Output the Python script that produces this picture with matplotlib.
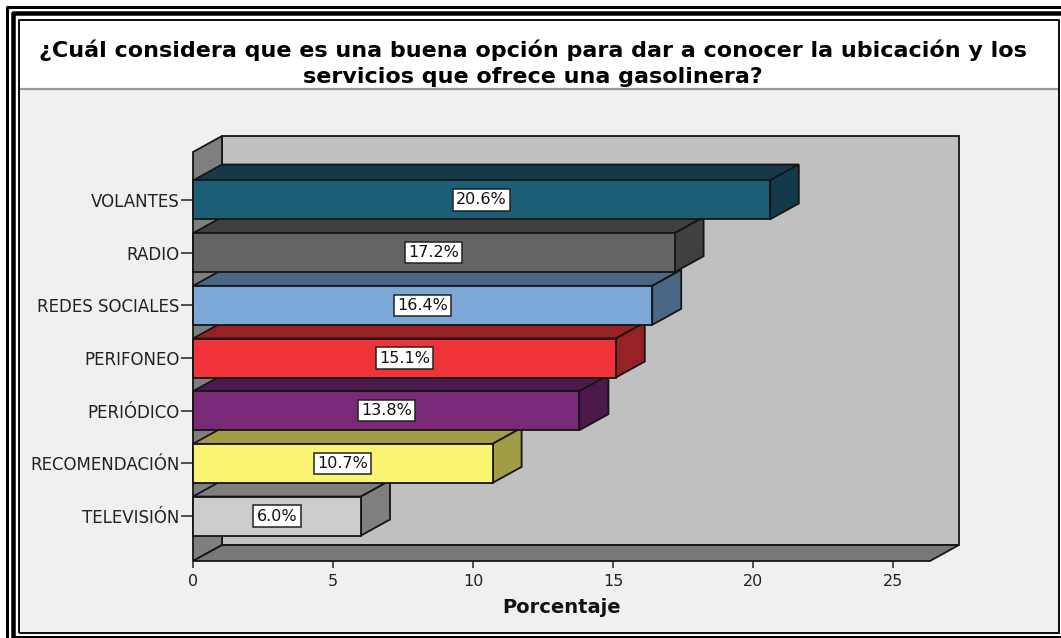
import numpy as np
import matplotlib
matplotlib.use('Agg')
import matplotlib.pyplot as plt
from matplotlib.patches import Polygon
from matplotlib.lines import Line2D

# Datos de la pregunta
titulo_1 = '¿Cuál considera que es una buena opción para dar a conocer la ubicación y los'
titulo_2 = 'servicios que ofrece una gasolinera?'
categorias = ['VOLANTES', 'RADIO', 'REDES SOCIALES', 'PERIFONEO',
              'PERIÓDICO', 'RECOMENDACIÓN', 'TELEVISIÓN']
porcentajes = [20.6, 17.2, 16.4, 15.1, 13.8, 10.7, 6.0]
ticks_x = [0, 5, 10, 15, 20, 25]

# colores cara frontal / caras laterales
color_frente = ['#1D5E77', '#646464', '#7BA8D6', '#F03339', '#7A2878', '#FAF571', '#CCCCCC']
color_lado = ['#13394A', '#404040', '#4A6785', '#962023', '#4B1A4A', '#A09D46', '#7F7F7F']

W, H = 1061, 638
fig = plt.figure(figsize=(W / 100, H / 100), dpi=100)
fig.patch.set_facecolor('white')

# ---- marco y fondo (coordenadas en pixeles) ----
fondo = fig.add_axes([0, 0, 1, 1])
fondo.set_xlim(0, W)
fondo.set_ylim(H, 0)
fondo.axis('off')
fondo.add_patch(plt.Rectangle((19, 89), 1040, 544, fc='#F0F0F0', ec='none'))
fondo.add_line(Line2D([19, 1059], [88.5, 88.5], color='#9A9A9A', lw=1.6))
px = 0.72  # puntos por pixel
marco = [
    ([7, 7, W], [H, 7, 7], 3.0, 'black'),
    ([13, 13, W], [H, 13, 13], 4.5, 'black'),
    ([18.5, 18.5, 1059, 1059, 18.5], [633, 19.5, 19.5, 633, 633], 2.0, '#111111'),
    ([13, W], [636.5, 636.5], 2.0, 'black'),
]
for xs, ys, ancho, c in marco:
    fondo.add_line(Line2D(xs, ys, color=c, lw=ancho * px, solid_capstyle='butt'))
fondo.text(533, 50.5, titulo_1, ha='center', va='center', fontsize=16,
           fontweight='bold', color='black')
fondo.text(533, 77, titulo_2, ha='center', va='center', fontsize=16,
           fontweight='bold', color='black')

# ---- grafico de barras 3D ----
x0, x1, y_arr, y_ab = 193, 930, 152, 561       # caja frontal en pixeles
px_unidad = 28.0
paso = 52.67
centro0 = 200
ax = fig.add_axes([x0 / W, (H - y_ab) / H, (x1 - x0) / W, (y_ab - y_arr) / H])
xmax = (x1 - x0) / px_unidad
y_top = (y_arr - centro0) / paso
y_bot = (y_ab - centro0) / paso
ax.set_xlim(0, xmax)
ax.set_ylim(y_bot, y_top)
ax.patch.set_visible(False)
for s in ax.spines.values():
    s.set_visible(False)

dx = 29 / px_unidad
dy = -16 / paso
h = 39 / paso
borde = '#151515'

def cara(pts, fc, z):
    ax.add_patch(Polygon(pts, closed=True, fc=fc, ec=borde, lw=1.3,
                         zorder=z, clip_on=False, joinstyle='miter'))

# pared del fondo, pared izquierda y piso
cara([(dx, y_top + dy), (xmax + dx, y_top + dy), (xmax + dx, y_bot + dy), (dx, y_bot + dy)], '#C0C0C0', 1)
cara([(0, y_top), (dx, y_top + dy), (dx, y_bot + dy), (0, y_bot)], '#7F7F7F', 2)
cara([(0, y_bot), (xmax, y_bot), (xmax + dx, y_bot + dy), (dx, y_bot + dy)], '#777777', 2)

n = len(categorias)
for i in reversed(range(n)):
    v = porcentajes[i]
    a, b = i - h / 2, i + h / 2
    z = 10 + 3 * (n - i)
    cara([(0, a), (v, a), (v + dx, a + dy), (dx, a + dy)], color_lado[i], z)
    cara([(v, a), (v + dx, a + dy), (v + dx, b + dy), (v, b)], color_lado[i], z)
    cara([(0, a), (v, a), (v, b), (0, b)], color_frente[i], z + 1)
    ax.text(v / 2, i, f'{v:.1f}%', ha='center', va='center', fontsize=11.5,
            color='#111111', zorder=z + 2,
            bbox=dict(boxstyle='square,pad=0.2', fc='white', ec='#222222', lw=1.1))

ax.set_yticks(range(n))
ax.set_yticklabels(categorias)
ax.set_xticks(ticks_x)
ax.tick_params(axis='y', length=8.6, width=1.2, color='#333333', pad=1,
               labelsize=12, labelcolor='#222222')
ax.tick_params(axis='x', length=5, width=1.2, color='#333333', pad=4.5,
               labelsize=11.5, labelcolor='#222222')
ax.set_xlabel('Porcentaje', fontweight='bold', fontsize=14, labelpad=6, color='#111111')

fig.savefig('out.png', dpi=100)
